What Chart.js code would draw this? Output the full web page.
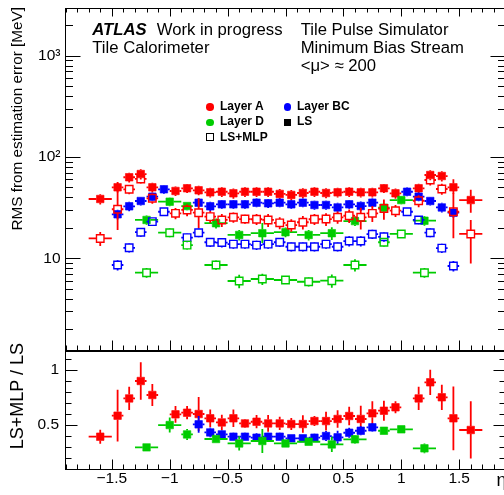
<!DOCTYPE html>
<html><head><meta charset="utf-8">
<script src="https://cdn.jsdelivr.net/npm/chart.js@4.4.1/dist/chart.umd.min.js"></script>
<style>
html,body{margin:0;padding:0;background:#fff;width:504px;height:495px;overflow:hidden;}
#wrap{position:relative;width:504px;height:495px;overflow:hidden;font-family:'Liberation Sans',Arial,sans-serif;color:#000;}
canvas{position:absolute;left:0;}
.t{position:absolute;white-space:nowrap;line-height:1;}
.m{position:absolute;box-sizing:border-box;}
</style></head><body>
<div id="wrap">
<canvas id="cTop" width="520" height="352" style="top:0;width:520px;height:352px"></canvas>
<canvas id="cBot" width="520" height="150" style="top:345px;width:520px;height:150px"></canvas>

<div class="t" style="left:92.3px;top:21.6px;font-size:16.7px;font-weight:bold;font-style:italic">ATLAS</div>
<div class="t" style="left:156.7px;top:21.6px;font-size:16.7px">Work in progress</div>
<div class="t" style="left:92.3px;top:39.9px;font-size:16.7px">Tile Calorimeter</div>
<div class="t" style="left:300.7px;top:21.6px;font-size:16.7px">Tile Pulse Simulator</div>
<div class="t" style="left:300.7px;top:39.9px;font-size:16.7px">Minimum Bias Stream</div>
<div class="t" style="left:300.7px;top:57.9px;font-size:16.7px">&lt;μ&gt; ≈ 200</div>

<div class="m" style="left:206.3px;top:103px;width:7.5px;height:7.5px;border-radius:50%;background:#ff0000"></div>
<div class="t" style="left:220px;top:99.8px;font-size:12px;font-weight:bold">Layer A</div>
<div class="m" style="left:283.5px;top:103px;width:7.5px;height:7.5px;border-radius:50%;background:#0000ff"></div>
<div class="t" style="left:297px;top:99.8px;font-size:12px;font-weight:bold">Layer BC</div>
<div class="m" style="left:206.3px;top:118.5px;width:7.5px;height:7.5px;border-radius:50%;background:#00cc00"></div>
<div class="t" style="left:220px;top:115.3px;font-size:12px;font-weight:bold">Layer D</div>
<div class="m" style="left:283.5px;top:118.5px;width:7px;height:7px;background:#000"></div>
<div class="t" style="left:297px;top:115.3px;font-size:12px;font-weight:bold">LS</div>
<div class="m" style="left:205.7px;top:133.3px;width:8px;height:8px;border:1.3px solid #000"></div>
<div class="t" style="left:220px;top:130.8px;font-size:12px;font-weight:bold">LS+MLP</div>

<div class="t" style="left:9px;top:307px;width:300px;text-align:right;font-size:15.3px;transform:rotate(-90deg);transform-origin:0 0">RMS from estimation error [MeV]</div>
<div class="t" style="left:7.5px;top:643px;width:300px;text-align:right;font-size:18px;transform:rotate(-90deg);transform-origin:0 0">LS+MLP / LS</div>
</div>
<script>
// ---------------- data ----------------
const etaA  = [-1.6,-1.45,-1.35,-1.25,-1.15,-0.95,-0.85,-0.75,-0.65,-0.55,-0.45,-0.35,-0.25,-0.15,-0.05,0.05,0.15,0.25,0.35,0.45,0.55,0.65,0.75,0.85,0.95,1.15,1.25,1.35,1.45,1.6];
const xErrA = [0.1,0.05,0.05,0.05,0.05,0.05,0.05,0.05,0.05,0.05,0.05,0.05,0.05,0.05,0.05,0.05,0.05,0.05,0.05,0.05,0.05,0.05,0.05,0.05,0.05,0.05,0.05,0.05,0.05,0.1];
const lsA    = [38.5,50.2,63.1,67.9,50.2,46.2,49.1,46.9,44.8,45.4,43.8,45.4,45.4,45.4,43.2,42.2,44.1,45.4,44.1,44.8,45.4,44.8,44.8,49.1,43.8,49.1,66.4,64.9,50.2,37.6];
const lsAErr = [4.5,5.5,7,8,5.5,5,5,5,5,5,5,5,5,5,5,5,5,5,5,5,5,5,5,5,5,5.5,7.5,7.5,[7,10],[9.5,10]];
const mlpA    = [15.7,30.5,48.0,60.7,39.1,27.8,30.0,28.2,25.8,23.9,25.4,24.4,24.3,23.9,22.4,21.3,22.7,24.3,24.4,25.4,26.3,25.4,27.8,31.0,29.5,37.0,59.3,48.3,28.8,17.4];
const mlpAErr = [2.5,[11.5,26],5,6,4.5,3.5,4,[8.4,11],3.5,3.5,3,2.5,3,3.5,3,3,3.5,3,3.5,3.5,4,6.2,5,7,4,5,7,6,[13,15],[8.5,6.5]];

const etaBC  = [-1.45,-1.35,-1.25,-1.15,-1.05,-0.75,-0.65,-0.55,-0.45,-0.35,-0.25,-0.15,-0.05,0.05,0.15,0.25,0.35,0.45,0.55,0.65,0.75,1.05,1.15,1.25,1.35,1.45];
const xErrBC = [0.05,0.05,0.05,0.05,0.05,0.05,0.05,0.05,0.05,0.05,0.05,0.05,0.05,0.05,0.05,0.05,0.05,0.05,0.05,0.05,0.05,0.05,0.05,0.05,0.05,0.05];
const lsBC    = [27.2,32.6,36.8,40.6,48.0,35.4,32.6,34.1,34.1,34.1,35.4,34.9,35.4,34.1,35.4,33.6,33.6,31.8,34.1,32.8,35.4,45.4,40.6,36.8,31.8,28.2];
const lsBCErr = [3,3.5,3.5,4,4.5,3.5,3.5,3.5,3.5,3.5,3.5,3.5,3.5,3.5,3.5,3.5,3.5,3.5,3.5,3.5,3.5,4.5,4,3.5,3.5,3];

const etaBCm  = [-1.45,-1.35,-1.25,-1.15,-1.05,-0.85,-0.75,-0.65,-0.55,-0.45,-0.35,-0.25,-0.15,-0.05,0.05,0.15,0.25,0.35,0.45,0.55,0.65,0.75,0.85,1.05,1.15,1.25,1.35,1.45];
const xErrBCm = [0.05,0.05,0.05,0.05,0.05,0.05,0.05,0.05,0.05,0.05,0.05,0.05,0.05,0.05,0.05,0.05,0.05,0.05,0.05,0.05,0.05,0.05,0.05,0.05,0.05,0.05,0.05,0.05];
const mlpBC    = [8.59,12.7,18.1,23.0,28.8,16.0,17.9,14.4,14.3,13.8,13.8,13.5,13.8,14.4,13.0,13.0,13.0,13.8,13.0,14.8,14.8,17.3,16.3,28.8,23.9,17.9,12.6,8.40];
const mlpBCErr = [1,1.3,1.8,2.2,2.5,1.6,1.8,1.5,1.5,1.4,1.4,1.4,1.4,1.5,1.3,1.3,1.3,1.4,1.3,1.7,1.7,1.8,1.7,2.5,2.2,1.8,1.3,1];

const etaD   = [-1.2,-1.0,-0.85,-0.6,-0.4,-0.2,0,0.2,0.4,0.6,0.85,1.0,1.2];
const xErrD  = [0.1,0.1,0.05,0.1,0.1,0.1,0.1,0.1,0.1,0.1,0.05,0.1,0.1];
const lsD     = [23.9,36.2,32.8,22.2,17.0,17.7,18.1,17.0,17.7,23.3,31.6,37.6,23.5];
const lsDErr  = [2.5,3.5,3,2.5,2,[3.5,4.6],2,2,2.5,2.5,3,3.5,2.5];
const mlpD    = [7.21,17.9,13.5,8.59,5.97,6.25,6.11,5.87,6.01,8.59,14.4,17.4,7.21];
const mlpDErr = [0.8,1.8,1.3,0.9,0.9,0.8,0.5,0.6,0.9,1.2,1.3,1.5,0.8];

// ratio LS+MLP / LS
const ratioA    = [0.394,0.585,0.742,0.90,0.773,0.597,0.612,0.60,0.561,0.524,0.561,0.515,0.53,0.515,0.515,0.509,0.509,0.536,0.536,0.555,0.582,0.555,0.606,0.63,0.661,0.742,0.888,0.752,0.561,0.455];
const ratioAErr = [0.064,0.235,0.106,0.17,0.1,0.076,0.06,0.155,0.08,0.07,0.08,0.04,0.06,0.075,0.06,0.055,0.08,0.045,0.085,0.08,0.085,0.12,0.11,0.09,0.055,0.106,0.115,0.115,0.29,0.26];
const etaRBC     = [-0.75,-0.65,-0.55,-0.45,-0.35,-0.25,-0.15,-0.05,0.05,0.15,0.25,0.35,0.45,0.55,0.65,0.75];
const xErrRBC    = [0.05,0.05,0.05,0.05,0.05,0.05,0.05,0.05,0.05,0.05,0.05,0.05,0.05,0.05,0.05,0.05];
const ratioBC    = [0.506,0.433,0.415,0.394,0.394,0.385,0.394,0.394,0.379,0.379,0.385,0.40,0.388,0.43,0.448,0.479];
const ratioBCErr = [0.075,0.045,0.04,0.035,0.035,0.04,0.035,0.035,0.035,0.035,0.035,0.045,0.06,0.045,0.04,0.04];
const ratioD    = [0.297,0.5,0.415,0.373,0.333,0.355,0.333,0.348,0.324,0.37,0.448,0.461,0.288];
const ratioDErr = [0.02,0.068,0.05,0.02,0.065,0.11,0.025,0.03,0.07,0.04,0.03,0.02,0.045];

// axes / ticks
const X_MIN = -1.9, X_MAX = 1.9;
const xTickValues = [-1.5,-1,-0.5,0,0.5,1,1.5];
const yTopTicks = [10,100,1000];
const yTopLabels = {10:'10',100:'10²',1000:'10³'};
const yBotTicks = [0.5,1];
const xTitle = 'η';

const RED = '#ff0000', BLUE = '#0000ff', GREEN = '#00cc00';

// ---------------- helpers ----------------
Chart.defaults.font.family = "'Liberation Sans', Arial, sans-serif";
Chart.defaults.color = '#000';

function mk(label, xs, ys, xErr, yErr, color, filled){
  return {
    label, data: xs.map((x,i)=>({x, y: ys[i]})),
    xErr, yErr, errColor: color, gap: 3.8,
    showLine: false, pointStyle: 'rect',
    pointRadius: 5.3, pointHoverRadius: 5.3,
    pointBackgroundColor: filled ? color : 'rgba(0,0,0,0)',
    pointBorderColor: color,
    pointBorderWidth: filled ? 0.6 : 1.4
  };
}

const errorBars = {
  id: 'errorBars',
  beforeDatasetDraw(chart, args){
    const ds = chart.data.datasets[args.index];
    if (!ds.yErr) return;
    const {ctx, chartArea: a} = chart;
    const xs = chart.scales.x, ys = chart.scales.y;
    ctx.save();
    ctx.beginPath(); ctx.rect(a.left, a.top, a.right - a.left, a.bottom - a.top); ctx.clip();
    ctx.strokeStyle = ds.errColor; ctx.lineWidth = 1.8;
    const g = ds.gap;
    ds.data.forEach((p, i) => {
      const px = xs.getPixelForValue(p.x), py = ys.getPixelForValue(p.y);
      const xe = ds.xErr[i], ye = ds.yErr[i];
      const lo = Array.isArray(ye) ? ye[0] : ye, hi = Array.isArray(ye) ? ye[1] : ye;
      const x1 = xs.getPixelForValue(p.x - xe), x2 = xs.getPixelForValue(p.x + xe);
      const y1 = ys.getPixelForValue(p.y + hi);
      const y2 = (p.y - lo > 0) ? ys.getPixelForValue(p.y - lo) : a.bottom;
      ctx.beginPath();
      if (px - x1 > g) { ctx.moveTo(x1, py); ctx.lineTo(px - g, py); }
      if (x2 - px > g) { ctx.moveTo(px + g, py); ctx.lineTo(x2, py); }
      if (py - y1 > g) { ctx.moveTo(px, y1); ctx.lineTo(px, py - g); }
      if (y2 - py > g) { ctx.moveTo(px, py + g); ctx.lineTo(px, y2); }
      ctx.stroke();
    });
    ctx.restore();
  }
};

const frameTicks = {
  id: 'frameTicks',
  afterDraw(chart, args, o){
    const {ctx, chartArea: a} = chart;
    const xs = chart.scales.x, ys = chart.scales.y;
    ctx.save();
    ctx.strokeStyle = '#000'; ctx.lineWidth = 1;
    ctx.beginPath();
    for (let k = -19; k <= 19; k++) {
      const v = k / 10, major = (k % 5 === 0);
      const p = Math.round(xs.getPixelForValue(v)) + 0.5;
      const lb = major ? o.xBottom[0] : o.xBottom[1];
      const lt = major ? o.xTop[0] : o.xTop[1];
      if (lb > 0) { ctx.moveTo(p, a.bottom); ctx.lineTo(p, a.bottom - lb); }
      if (lt > 0) { ctx.moveTo(p, a.top); ctx.lineTo(p, a.top + lt); }
    }
    o.yTicks().forEach(t => {
      const p = Math.round(ys.getPixelForValue(t.v)) + 0.5;
      if (p < a.top || p > a.bottom) return;
      const l = t.major ? o.yLen[0] : o.yLen[1];
      ctx.moveTo(a.left, p); ctx.lineTo(a.left + l, p);
      ctx.moveTo(a.right, p); ctx.lineTo(a.right - l, p);
    });
    ctx.stroke();
    ctx.strokeRect(a.left, a.top, a.right - a.left, a.bottom - a.top);
    if (o.title) {
      ctx.fillStyle = '#000';
      ctx.font = "18px 'Liberation Sans', Arial, sans-serif";
      ctx.textAlign = 'left'; ctx.textBaseline = 'alphabetic';
      ctx.fillText(o.title, a.right - 9, a.bottom + 16);
    }
    ctx.restore();
  }
};
Chart.register(errorBars, frameTicks);

function ordered(list){ return list.map((d,i)=>Object.assign(d,{order: list.length - i})); }
const fmt = v => (v < 0 ? '\u2212' + String(-v) : String(v));
const noPad = s => { s.paddingTop = 0; s.paddingBottom = 0; s.paddingLeft = 0; s.paddingRight = 0; };

// ---------------- top panel ----------------
new Chart(document.getElementById('cTop'), {
  type: 'scatter',
  data: { datasets: ordered([
    mk('Layer A LS', etaA, lsA, xErrA, lsAErr, RED, true),
    mk('Layer BC LS', etaBC, lsBC, xErrBC, lsBCErr, BLUE, true),
    mk('Layer D LS', etaD, lsD, xErrD, lsDErr, GREEN, true),
    mk('Layer A LS+MLP', etaA, mlpA, xErrA, mlpAErr, RED, false),
    mk('Layer BC LS+MLP', etaBCm, mlpBC, xErrBCm, mlpBCErr, BLUE, false),
    mk('Layer D LS+MLP', etaD, mlpD, xErrD, mlpDErr, GREEN, false)
  ]) },
  options: {
    responsive: false, animation: false, devicePixelRatio: 1,
    layout: { autoPadding: false, padding: { left: 0, right: 14.5, top: 8.5, bottom: 1.5 } },
    plugins: {
      legend: { display: false }, tooltip: { enabled: false },
      frameTicks: {
        xBottom: [10, 5], xTop: [8, 4], yLen: [15, 7.5],
        yTicks: () => { const r = []; [1,10,100,1000].forEach(d => { for (let m = 1; m <= 9; m++) r.push({v: m*d, major: m === 1}); }); return r; }
      }
    },
    scales: {
      x: { type: 'linear', display: false, min: X_MIN, max: X_MAX, bounds: 'data' },
      y: { type: 'logarithmic', min: 1.23, max: 2924, bounds: 'data',
           grid: { display: false, drawTicks: false }, border: { display: false },
           afterBuildTicks: s => { s.ticks = yTopTicks.map(v => ({value: v})); },
           afterFit: s => { s.width = 65.5; noPad(s); },
           ticks: { padding: 5, font: { size: 15.5 }, color: '#000', autoSkip: false,
                    callback: v => yTopLabels[v] } }
    }
  }
});

// ---------------- ratio panel ----------------
new Chart(document.getElementById('cBot'), {
  type: 'scatter',
  data: { datasets: ordered([
    mk('Layer A', etaA, ratioA, xErrA, ratioAErr, RED, true),
    mk('Layer BC', etaRBC, ratioBC, xErrRBC, ratioBCErr, BLUE, true),
    mk('Layer D', etaD, ratioD, xErrD, ratioDErr, GREEN, true)
  ]) },
  options: {
    responsive: false, animation: false, devicePixelRatio: 1,
    layout: { autoPadding: false, padding: { left: 0, right: 14.5, top: 6.5, bottom: 0 } },
    plugins: {
      legend: { display: false }, tooltip: { enabled: false },
      frameTicks: {
        xBottom: [10, 5], xTop: [0, 0], yLen: [12, 6], title: xTitle,
        yTicks: () => { const r = []; for (let k = 1; k <= 11; k++) r.push({v: k/10, major: (k === 5 || k === 10)}); return r; }
      }
    },
    scales: {
      x: { type: 'linear', min: X_MIN, max: X_MAX, bounds: 'data',
           grid: { display: false, drawTicks: false }, border: { display: false },
           afterBuildTicks: s => { s.ticks = xTickValues.map(v => ({value: v})); },
           afterFit: s => { s.height = 25.5; noPad(s); },
           ticks: { padding: 0, font: { size: 15.5 }, color: '#000', autoSkip: false, maxRotation: 0,
                    callback: v => fmt(v) } },
      y: { type: 'linear', min: 0.096, max: 1.168, bounds: 'data',
           grid: { display: false, drawTicks: false }, border: { display: false },
           afterBuildTicks: s => { s.ticks = yBotTicks.map(v => ({value: v})); },
           afterFit: s => { s.width = 65.5; noPad(s); },
           ticks: { padding: 6.5, font: { size: 15.5 }, color: '#000', autoSkip: false,
                    callback: v => fmt(v) } }
    }
  }
});
</script>
</body></html>
